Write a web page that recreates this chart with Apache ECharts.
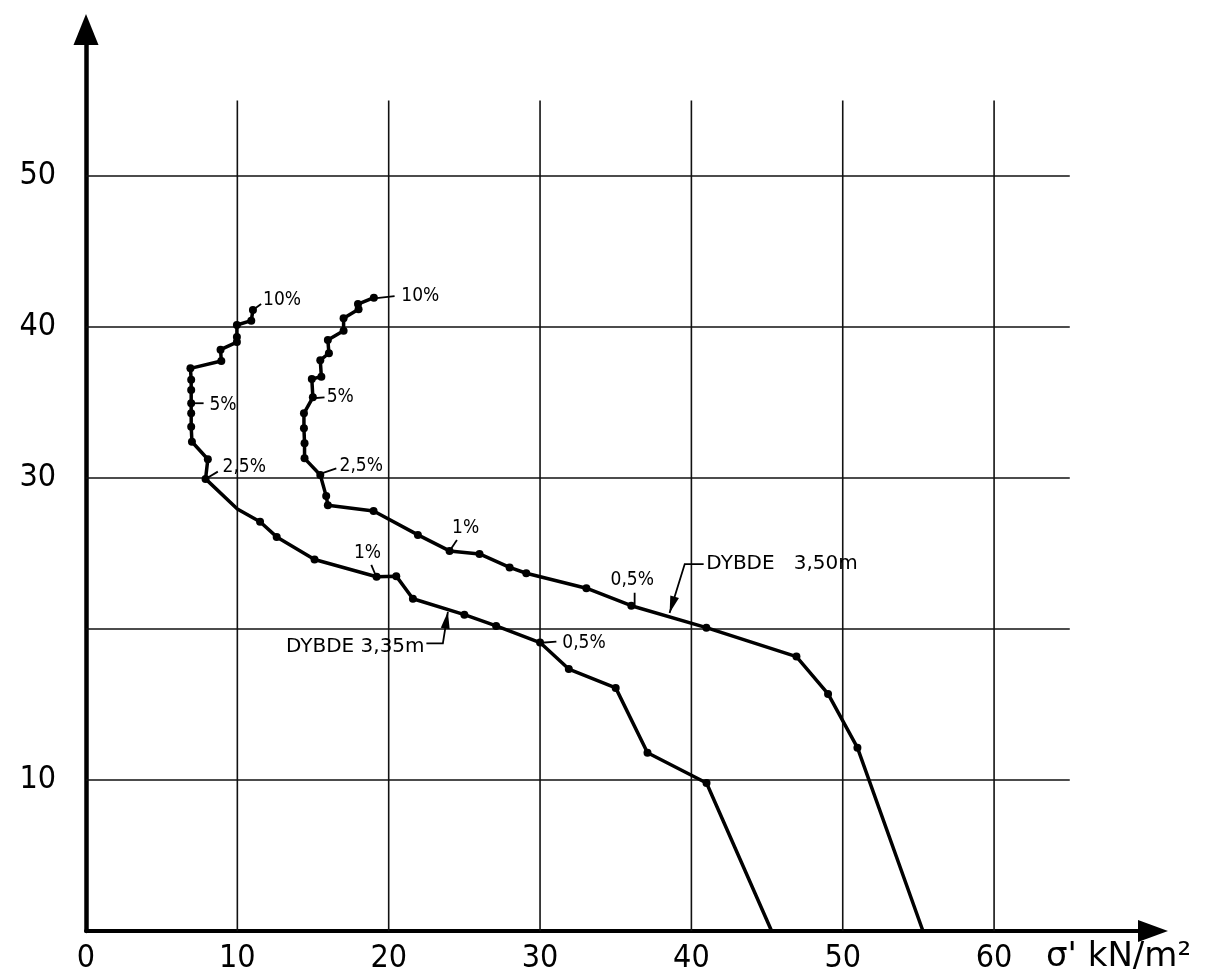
<!DOCTYPE html>
<html><head><meta charset="utf-8">
<script src="https://cdn.jsdelivr.net/npm/echarts@6/dist/echarts.min.js"></script>
<style>html,body{margin:0;padding:0;background:#fff}#c{width:1210px;height:978px}</style>
</head><body><div id="c"></div>
<script>
// Curve "DYBDE 3,35m" (x = sigma' kN/m2, y = value)
const xA = [45.3, 41.0, 37.1, 35.0, 31.9, 30.0, 27.1, 25.0, 21.6, 20.5, 19.2, 15.1, 12.6, 11.5, 10.0, 7.9, 8.05, 7.0, 6.95, 6.95, 6.95, 6.95, 6.95, 6.9, 8.94, 8.89, 9.97, 9.97, 9.97, 10.92, 11.03];
const yA = [0, 9.8, 11.8, 16.1, 17.35, 19.1, 20.2, 20.95, 22.0, 23.5, 23.46, 24.6, 26.1, 27.1, 27.95, 29.94, 31.24, 32.4, 33.4, 34.28, 34.95, 35.83, 36.5, 37.26, 37.75, 38.5, 39.0, 39.34, 40.13, 40.42, 41.13];
const measuredA = [0,1,1,1,1,1,1,1,1,1,1,1,1,1,0,1,1,1,1,1,1,1,1,1,1,1,1,1,1,1,1];
// Curve "DYBDE 3,50m"
const xB = [55.3, 50.97, 49.03, 46.94, 40.99, 36.03, 33.06, 29.09, 27.99, 26.0, 24.02, 21.93, 19.0, 15.98, 15.87, 15.48, 14.44, 14.44, 14.4, 14.4, 14.99, 14.92, 15.55, 15.48, 16.05, 15.98, 17.02, 17.02, 18.01, 17.97, 19.02];
const yB = [0, 12.14, 15.7, 18.17, 20.09, 21.54, 22.7, 23.69, 24.08, 24.97, 25.17, 26.23, 27.81, 28.2, 28.8, 30.2, 31.3, 32.3, 33.3, 34.28, 35.34, 36.56, 36.71, 37.8, 38.26, 39.14, 39.75, 40.58, 41.17, 41.52, 41.94];
const measuredB = [0,1,1,1,1,1,1,1,1,1,1,1,1,1,1,1,1,1,1,1,1,1,1,1,1,1,1,1,1,1,1];
// Axes
const xTicks = [0, 10, 20, 30, 40, 50, 60];
const yTicks = [10, 30, 40, 50];
const xGridLines = [10, 20, 30, 40, 50, 60];
const yGridLines = [10, 20, 30, 40, 50];
const xTitle = "σ' kN/m²";
// Annotations (data coordinates)
const notes = [
  {text:'10%', pos:[11.7,41.8], align:'left', leader:[[11.03,41.13],[11.57,41.52]]},
  {text:'5%', pos:[8.16,34.83], align:'left', leader:[[7.12,34.95],[7.77,34.95]]},
  {text:'2,5%', pos:[9.02,30.73], align:'left', leader:[[7.98,29.98],[8.71,30.42]]},
  {text:'1%', pos:[18.6,25.05], align:'center', leader:[[19.18,23.46],[18.85,24.24]]},
  {text:'0,5%', pos:[31.47,19.07], align:'left', leader:[[30.09,19.09],[31.08,19.16]]},
  {text:'DYBDE 3,35m', pos:[22.37,18.81], align:'right', leader:[[22.49,19.05],[23.58,19.05],[23.91,21.14]], arrow:true, depth:true},
  {text:'10%', pos:[20.83,42.05], align:'left', leader:[[19.05,41.9],[20.39,42.05]]},
  {text:'5%', pos:[15.9,35.33], align:'left', leader:[[14.99,35.28],[15.76,35.34]]},
  {text:'2,5%', pos:[16.75,30.79], align:'left', leader:[[15.43,30.26],[16.54,30.64]]},
  {text:'1%', pos:[25.08,26.69], align:'center', leader:[[24.02,25.17],[24.51,25.89]]},
  {text:'0,5%', pos:[36.09,23.25], align:'center', leader:[[36.25,21.59],[36.25,22.4]]},
  {text:'DYBDE   3,50m', pos:[40.99,24.3], align:'left', leader:[[40.81,24.3],[39.56,24.3],[38.56,21.06]], arrow:true, depth:true}
];

const tickFont = '"DejaVu Sans Condensed", "Liberation Sans Narrow", "DejaVu Sans", sans-serif';
const noteFont = '"DejaVu Sans Condensed", "DejaVu Sans", sans-serif';
const depthFont = '"DejaVu Sans", sans-serif';

const chart = echarts.init(document.getElementById('c'), null, {renderer:'canvas'});

function curve(xs, ys, flags){
  return xs.map((x,i)=>({value:[x, ys[i]], symbolSize: flags[i] ? 8 : 0}));
}
const series = [];
xGridLines.forEach(v => series.push({type:'line', data:[[v,0],[v,55]], symbol:'none', silent:true, z:1,
  lineStyle:{color:'#111', width:1.6}}));
yGridLines.forEach(v => series.push({type:'line', data:[[0,v],[65,v]], symbol:'none', silent:true, z:1,
  lineStyle:{color:'#111', width:1.6}}));
series.push({type:'line', name:'DYBDE 3,35m', data:curve(xA,yA,measuredA), symbol:'circle', showSymbol:true, z:3,
  itemStyle:{color:'#000'}, lineStyle:{color:'#000', width:3.5}});
series.push({type:'line', name:'DYBDE 3,50m', data:curve(xB,yB,measuredB), symbol:'circle', showSymbol:true, z:3,
  itemStyle:{color:'#000'}, lineStyle:{color:'#000', width:3.5}});

chart.setOption({
  animation:false,
  backgroundColor:'#fff',
  grid:{left:86, right:57, top:29.5, bottom:47, containLabel:false},
  xAxis:{type:'value', min:0, max:70.5, interval:10,
    splitLine:{show:false}, axisTick:{show:false},
    axisLine:{show:true, lineStyle:{color:'#000', width:4}, symbol:['none','triangle'], symbolSize:[22,30]},
    axisLabel:{show:true, margin:12, color:'#000', fontSize:32, fontFamily:tickFont,
      formatter: v => xTicks.includes(v) ? String(v) : ''}},
  yAxis:{type:'value', min:0, max:59.7, interval:10,
    splitLine:{show:false}, axisTick:{show:false},
    axisLine:{show:true, lineStyle:{color:'#000', width:4.5}, symbol:['none','triangle'], symbolSize:[25,31]},
    axisLabel:{show:true, margin:30, color:'#000', fontSize:32, fontFamily:tickFont,
      formatter: v => yTicks.includes(v) ? String(v) : ''}},
  series: series
});

function px(p){ return chart.convertToPixel({gridIndex:0}, p); }
const g = [];
notes.forEach(n => {
  const pts = n.leader.map(px);
  g.push({type:'polyline', shape:{points:pts}, style:{stroke:'#000', lineWidth:1.8, fill:null}, silent:true, z:10});
  if (n.arrow) {
    const a = pts[pts.length-2], b = pts[pts.length-1];
    const dx = b[0]-a[0], dy = b[1]-a[1], L = Math.hypot(dx,dy);
    const ux = dx/L, uy = dy/L, len = 17, w = 4.5;
    const bx = b[0]-ux*len, by = b[1]-uy*len;
    g.push({type:'polygon', shape:{points:[b,[bx-uy*w, by+ux*w],[bx+uy*w, by-ux*w]]}, style:{fill:'#000'}, silent:true, z:10});
  }
  const t = px(n.pos);
  g.push({type:'text', x:t[0], y:t[1], silent:true, z:10,
    style:{text:n.text, fill:'#000', fontSize: n.depth ? 20 : 19, fontFamily: n.depth ? depthFont : noteFont,
      align:n.align, textAlign:n.align, verticalAlign:'middle', textVerticalAlign:'middle'}});
});
g.push({type:'text', x:1046, y:957, silent:true, z:10,
  style:{text:xTitle, fill:'#000', fontSize:34, fontFamily:depthFont, align:'left', textAlign:'left', verticalAlign:'middle', textVerticalAlign:'middle'}});
chart.setOption({graphic:g});
</script>
</body></html>
